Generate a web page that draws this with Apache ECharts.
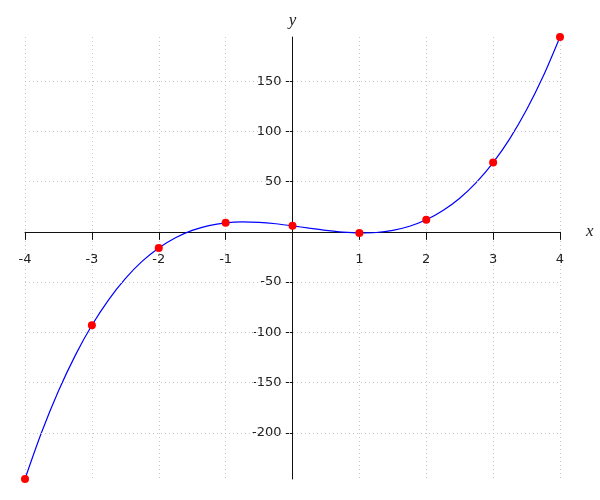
<!DOCTYPE html>
<html>
<head>
<meta charset="utf-8">
<script src="https://cdn.jsdelivr.net/npm/echarts@6/dist/echarts.min.js"></script>
<style>html,body{margin:0;padding:0;background:#fff}#c{width:600px;height:500px}</style>
</head>
<body>
<div id="c"></div>
<script>
// Sampled points (red dots)
const pointX = [-4, -3, -2, -1, 0, 1, 2, 3, 4];
const pointY = [-246, -93, -16, 9, 6, -1, 12, 69, 194];
// Curve values
const curveX = [-4, -3.75, -3.5, -3.25, -3, -2.75, -2.5, -2.25, -2, -1.75, -1.5, -1.25, -1, -0.75, -0.5, -0.25, 0,
                0.25, 0.5, 0.75, 1, 1.25, 1.5, 1.75, 2, 2.25, 2.5, 2.75, 3, 3.25, 3.5, 3.75, 4];
const curveY = [-246, -199.3, -158.5, -123.2, -93, -67.6, -46.5, -29.4, -16, -5.8, 1.5, 6.3, 9, 9.9, 9.5, 8.1, 6,
                3.7, 1.5, -0.2, -1, -0.6, 1.5, 5.6, 12, 21.2, 33.5, 49.3, 69, 92.9, 121.5, 155.1, 194];
// Tick labels
const xTicks = [-4, -3, -2, -1, 1, 2, 3, 4];
const yTicks = [-200, -150, -100, -50, 50, 100, 150];

const chart = echarts.init(document.getElementById('c'), null, {renderer: 'canvas'});
const labelFont = {fontFamily: 'DejaVu Sans', fontSize: 13, color: '#222'};
const gridLine = {color: '#c8c8c8', width: 1, type: [1, 3]};

const option = {
  animation: false,
  backgroundColor: '#fff',
  grid: {left: 25, right: 40, top: 37, bottom: 21, containLabel: false, outerBoundsMode: 'none'},
  xAxis: {
    type: 'value', min: -4, max: 4, interval: 1, position: 'bottom', offset: 0,
    name: 'x', nameLocation: 'end', nameGap: 26,
    nameTextStyle: {fontFamily: 'Liberation Serif', fontStyle: 'italic', fontSize: 17, color: '#222', verticalAlign: 'middle', padding: [14, 0, 0, 0]},
    axisLine: {onZero: false, lineStyle: {color: '#111', width: 1}},
    axisTick: {show: true, length: 8, inside: false, lineStyle: {color: '#111'}},
    axisLabel: Object.assign({margin: 21, formatter: v => (xTicks.indexOf(v) >= 0 ? String(v) : '')}, labelFont),
    splitLine: {show: true, lineStyle: gridLine}
  },
  yAxis: {
    type: 'value', min: -246, max: 194, position: 'left', offset: 0,
    name: 'y', nameLocation: 'end', nameGap: 8,
    nameTextStyle: {fontFamily: 'Liberation Serif', fontStyle: 'italic', fontSize: 17, color: '#222', align: 'center'},
    axisLine: {onZero: false, lineStyle: {color: '#111', width: 1}},
    axisTick: {show: true, length: 7, inside: false, customValues: yTicks, lineStyle: {color: '#111'}},
    axisLabel: Object.assign({margin: 11, customValues: yTicks}, labelFont),
    splitLine: {show: false}
  },
  series: [
    {
      type: 'line', silent: true, symbol: 'none', z: 1,
      data: [],
      markLine: {
        silent: true, symbol: 'none', label: {show: false},
        lineStyle: gridLine, animation: false,
        data: yTicks.map(v => ({yAxis: v}))
      }
    },
    {
      type: 'line', smooth: 0.3, symbol: 'none', z: 3,
      lineStyle: {color: '#0000ff', width: 1.2},
      data: curveX.map((x, i) => [x, curveY[i]])
    },
    {
      type: 'scatter', symbol: 'circle', symbolSize: 8, z: 4,
      itemStyle: {color: '#ff0000', opacity: 1},
      data: pointX.map((x, i) => [x, pointY[i]])
    }
  ]
};
chart.setOption(option);

// Move the axes so they cross at the origin
const origin = chart.convertToPixel({gridIndex: 0}, [0, 0]);
const rect = chart.getModel().getComponent('grid', 0).coordinateSystem.getRect();
chart.setOption({
  xAxis: {offset: -(rect.y + rect.height - origin[1])},
  yAxis: {offset: -(origin[0] - rect.x)}
});
</script>
</body>
</html>
